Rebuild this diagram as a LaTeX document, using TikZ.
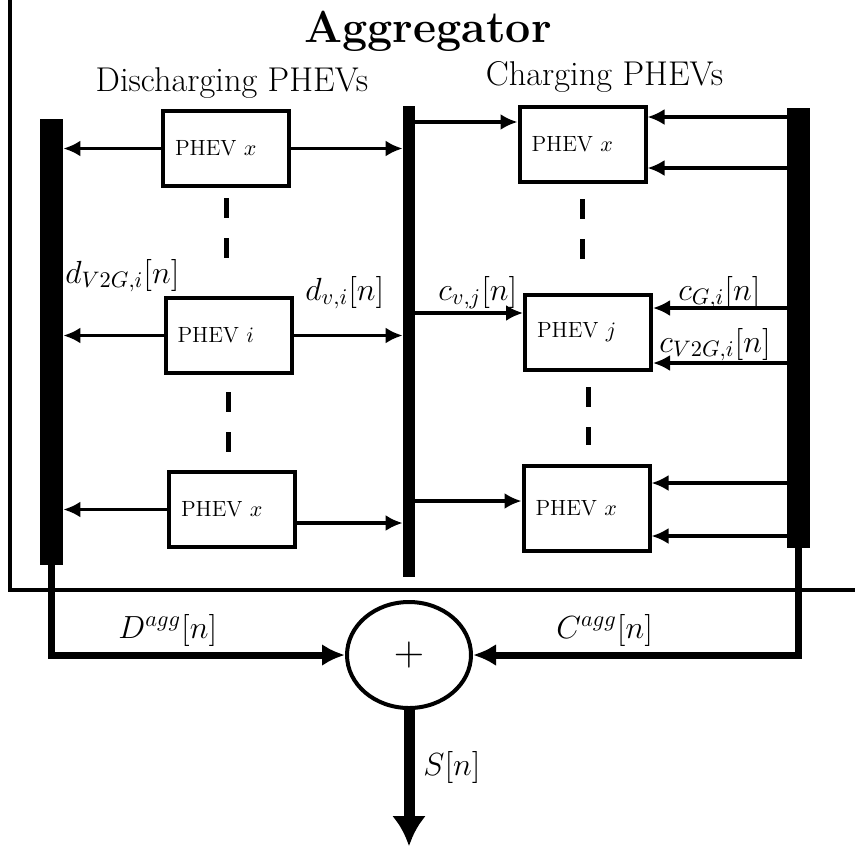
\documentclass[tikz,border=0pt]{standalone}
\usepackage{fix-cm}
\usepackage{amsmath}
\usepackage{fontspec}
\usetikzlibrary{
    arrows.meta,
    shapes.geometric
}

\tikzset{
    phev/.style={draw, line width=2pt, minimum height=37.5pt, inner sep=6pt,
        text width=51pt, align=left, font=\fontsize{11}{13}\selectfont},
    bus/.style={fill=black, inner sep=0pt, minimum width=11.5pt},
    flow/.style={line width=1.6pt, -{Latex[length=8.5pt,width=8pt]}},
    bigflow/.style={line width=3.5pt, -{Latex[length=11.5pt,width=11pt]}},
    gap/.style={line width=2.5pt, dash pattern=on 10pt off 10pt},
    lbl/.style={font=\fontsize{16}{19}\selectfont, inner sep=0pt, anchor=base west}
}

\begin{document}
\begin{tikzpicture}[x=0.5pt, y=-0.5pt]
\useasboundingbox (0,0) rectangle (855,847);

% Aggregator frame
\draw[line width=2pt] (10,0) -- (10,590) -- (855,590);
\node[font=\fontsize{22.4}{27}\selectfont\bfseries, anchor=base] (title) at (428,42) {Aggregator};
\node[font=\fontsize{17.2}{20}\selectfont, anchor=base] (dis) at (232,91) {Discharging PHEVs};
\node[font=\fontsize{17.2}{20}\selectfont, anchor=base] (chg) at (604.5,85) {Charging PHEVs};

% Buses
\node[bus, minimum height=223pt] (lbus) at (51.5,342) {};
\node[bus, minimum width=6pt, minimum height=235.5pt] (mbus) at (409,341.5) {};
\node[bus, minimum height=220pt] (rbus) at (798.5,328) {};

% Discharging PHEVs
\node[phev] (d1) at (226,148.5) {PHEV $x$};
\node[phev] (di) at (228.5,335.5) {PHEV $i$};
\node[phev] (d2) at (232,509.5) {PHEV $x$};

\draw[flow] (d1.west) -- (d1.west -| lbus.east);
\draw[flow] (d1.east) -- (d1.east -| mbus.west);
\draw[flow] (di.west) -- (di.west -| lbus.east);
\draw[flow] (di.east) -- (di.east -| mbus.west);
\draw[flow] (d2.west) -- (d2.west -| lbus.east);
\draw[flow] (d2.east |- 0,523) -- (mbus.west |- 0,523);

\draw[gap] ([yshift=-5pt]d1.south) -- ([yshift=-35pt]d1.south);
\draw[gap] ([yshift=-8.5pt]di.south) -- ([yshift=-38.5pt]di.south);

\node[lbl] (dv2g) at (65,283) {$d_{V2G,i}[n]$};
\node[lbl] (dv) at (305,300) {$d_{v,i}[n]$};

% Charging PHEVs
\node[phev] (c1) at (582.5,144.5) {PHEV $x$};
\node[phev] (cj) at (588,332.5) {PHEV $j$};
\node[phev, minimum height=42.5pt] (c2) at (586.5,508.5) {PHEV $x$};

\draw[flow] (mbus.east |- 0,122) -- (c1.west |- 0,122);
\draw[flow] (rbus.west |- 0,117) -- (c1.east |- 0,117);
\draw[flow] (rbus.west |- 0,168) -- (c1.east |- 0,168);
\draw[flow] (mbus.east |- 0,313) -- (cj.west |- 0,313);
\draw[flow] (rbus.west |- 0,308) -- (cj.east |- 0,308);
\draw[flow] (rbus.west |- 0,363) -- (cj.east |- 0,363);
\draw[flow] (mbus.east |- 0,501) -- (c2.west |- 0,501);
\draw[flow] (rbus.west |- 0,483) -- (c2.east |- 0,483);
\draw[flow] (rbus.west |- 0,536) -- (c2.east |- 0,536);

\draw[gap] ([yshift=-7.5pt]c1.south) -- ([yshift=-37.5pt]c1.south);
\draw[gap] ([yshift=-7.5pt]cj.south) -- ([yshift=-36.5pt]cj.south);

\node[lbl] (cv) at (438,300) {$c_{v,j}[n]$};
\node[lbl] (cg) at (678,300) {$c_{G,i}[n]$};
\node[lbl] (cv2g) at (659,352) {$c_{V2G,i}[n]$};

% Sum
\node[draw, ellipse, line width=2pt, minimum width=62pt, minimum height=53pt,
    font=\fontsize{21}{25}\selectfont] (sum) at (409,655) {$+$};
\coordinate (out) at (409,846);

\draw[bigflow] (lbus.south) |- (sum.west);
\draw[bigflow] (rbus.south) |- (sum.east);
\draw[line width=5.5pt, -{Latex[length=15pt,width=17pt]}] (sum.south) -- (out);

\node[lbl] (dagg) at (118,638) {$D^{agg}[n]$};
\node[lbl] (cagg) at (556,638) {$C^{agg}[n]$};
\node[lbl] (sn) at (423,775) {$S[n]$};

\end{tikzpicture}
\end{document}
